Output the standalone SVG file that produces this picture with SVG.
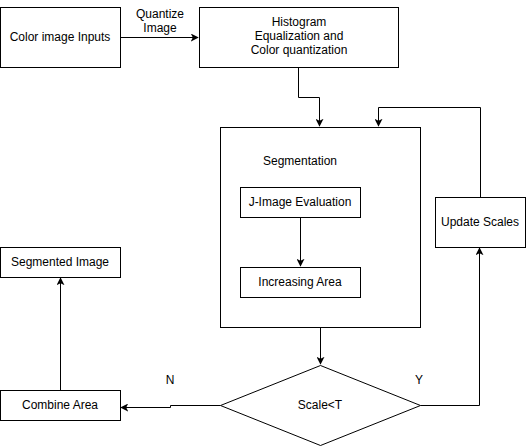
<svg xmlns="http://www.w3.org/2000/svg" width="526" height="446" viewBox="0 0 526 446">
<style>
.box{fill:#fff;stroke:#000;stroke-width:1}
.t{font-family:"Liberation Sans",Arial,sans-serif;font-size:12px;fill:#000;text-anchor:middle;dominant-baseline:central}
.c{fill:none;stroke:#000;stroke-width:1}
</style>
<defs>
<marker id="a" viewBox="0 0 10 10" refX="9" refY="5" markerWidth="8" markerHeight="8" markerUnits="userSpaceOnUse" orient="auto">
<path d="M0,0 L10,5 L0,10 L2.5,5 Z" fill="#000"/>
</marker>
</defs>
<rect width="526" height="446" fill="#fff"/>
<g id="input"><rect class="box" x="0.5" y="7.5" width="120" height="60"/><text class="t" x="60" y="37">Color image Inputs</text></g>
<g id="histogram"><rect class="box" x="199.5" y="7.5" width="199" height="60"/>
<text class="t" x="299" y="22">Histogram</text><text class="t" x="299" y="36">Equalization and</text><text class="t" x="299" y="50">Color quantization</text></g>
<g id="segmentation"><rect class="box" x="220.5" y="127.5" width="200" height="200"/><text class="t" x="300" y="161">Segmentation</text></g>
<g id="jimage"><rect class="box" x="240.5" y="187.5" width="120" height="30"/><text class="t" x="300" y="202">J-Image Evaluation</text></g>
<g id="increasing"><rect class="box" x="240.5" y="267.5" width="120" height="30"/><text class="t" x="300" y="282">Increasing Area</text></g>
<g id="update"><rect class="box" x="435.5" y="197.5" width="90" height="50"/><text class="t" x="480" y="222">Update Scales</text></g>
<g id="decision"><path class="box" d="M320.5,365.5 L420.5,405.5 L320.5,445.5 L220.5,405.5 Z"/><text class="t" x="320" y="405">Scale&lt;T</text></g>
<g id="combine"><rect class="box" x="0.5" y="390.5" width="120" height="30"/><text class="t" x="60" y="405">Combine Area</text></g>
<g id="segmented"><rect class="box" x="0.5" y="247.5" width="120" height="30"/><text class="t" x="60" y="262">Segmented Image</text></g>
<g id="connectors">
<path class="c" d="M120.5,37.5 H198" marker-end="url(#a)"/>
<path class="c" d="M298.5,67.5 V97.5 H319.5 V126" marker-end="url(#a)"/>
<path class="c" d="M300.5,217.5 V266" marker-end="url(#a)"/>
<path class="c" d="M480.5,197.5 V107.5 H378.5 V126" marker-end="url(#a)"/>
<path class="c" d="M320.5,327.5 V364" marker-end="url(#a)"/>
<path class="c" d="M420.5,405.5 H479.5 V248" marker-end="url(#a)"/>
<path class="c" d="M220.5,405.5 H170.5 V407.5 H121" marker-end="url(#a)"/>
<path class="c" d="M60.5,390.5 V278" marker-end="url(#a)"/>
<text class="t" x="160" y="14">Quantize</text>
<text class="t" x="160" y="28">Image</text>
<text class="t" x="170" y="380">N</text>
<text class="t" x="419" y="380">Y</text>
</g>
</svg>
